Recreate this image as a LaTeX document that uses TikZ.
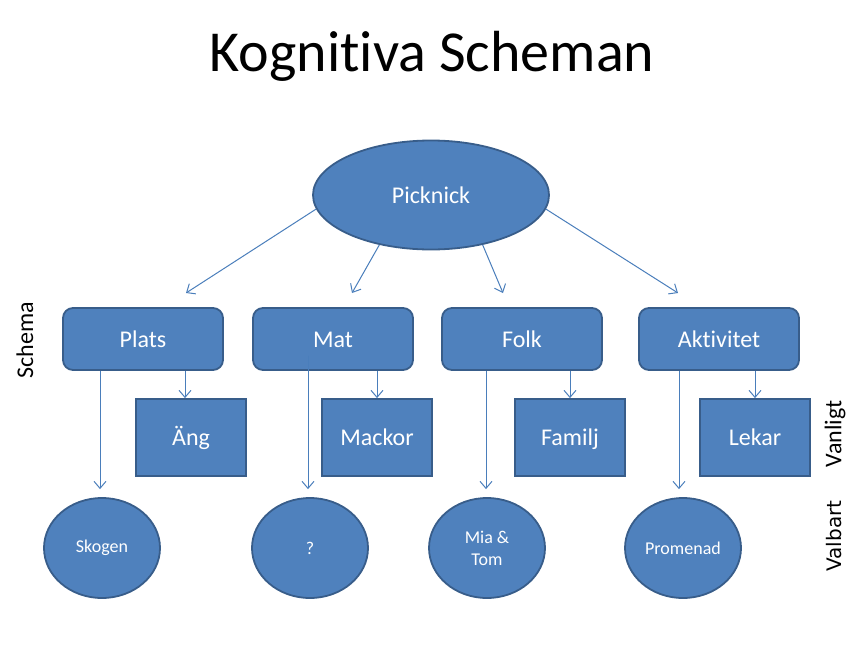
\documentclass[tikz,border=0pt]{standalone}
\usepackage{fontspec}
\setmainfont[Ligatures=NoCommon]{Carlito}
\newfontfamily\dejavu{DejaVu Sans}
\usetikzlibrary{shapes.geometric,arrows.meta}
\definecolor{boxfill}{HTML}{4F81BD}
\definecolor{boxline}{HTML}{385D8A}
\definecolor{arrcol}{HTML}{4A7EBB}
\tikzset{
  shapebase/.style={fill=boxfill, draw=boxline, line width=1.8pt, text=white, align=center, inner sep=0pt},
  bigtext/.style={font=\fontsize{24}{28}\selectfont, text height=16pt, text depth=0pt},
  topbox/.style={shapebase, bigtext, rounded corners=10pt, minimum width=160pt, minimum height=62pt},
  leafbox/.style={shapebase, bigtext, minimum width=110pt, minimum height=77pt},
  leafoval/.style={shapebase, ellipse, minimum width=116pt, minimum height=100pt, font=\fontsize{18}{22}\selectfont},
  arr/.style={draw=arrcol, line width=1pt, -{Straight Barb[length=7pt,width=12pt]}},
  sidelabel/.style={rotate=90, font=\fontsize{24}{28}\selectfont, inner sep=0pt}
}
\begin{document}
\begin{tikzpicture}[x=1pt, y=-1pt]
\useasboundingbox (0,0) rectangle (864,648);
\node[font=\fontsize{58}{70}\selectfont, inner sep=0pt] (title) at (432,56) {Kognitiva Scheman};

\node[shapebase, bigtext, ellipse, minimum width=236pt, minimum height=109pt] (pick) at (431,195) {Picknick};

\node[topbox] (plats) at (143,339) {Plats};
\node[topbox] (mat) at (333,339) {Mat};
\node[topbox] (folk) at (522,339) {Folk};
\node[topbox] (akt) at (719,339) {Aktivitet};

\node[leafbox] (ang) at (191,437.5) {Äng};
\node[leafbox] (mackor) at (377,437.5) {Mackor};
\node[leafbox] (familj) at (570,437.5) {Familj};
\node[leafbox] (lekar) at (755,437.5) {Lekar};

\node[leafoval] (skogen) at (102,548) {Skogen};
\node[leafoval] (fraga) at (310,548) {?};
\node[leafoval] (miatom) at (487,548) {Mia \&\\Tom};
\node[leafoval] (prom) at (683,548) {Promenad};

\node[sidelabel] (schema) at (25,340) {Schema};
\node[sidelabel] (vanligt) at (835,434) {Vanligt};
\node[sidelabel, font=\dejavu\fontsize{20}{24}\selectfont] (valbart) at (834,536) {Valbart};

\coordinate (pA) at (186,293);
\coordinate (pB) at (352,293);
\coordinate (pC) at (503,293);
\coordinate (pD) at (678,293);
\draw[arr] (pick.187) -- (pA);
\draw[arr] (pick.224) -- (pB);
\draw[arr] (pick.316) -- (pC);
\draw[arr] (pick.353) -- (pD);

\draw[arr] ([xshift=-6pt]ang.north |- plats.south) -- ([xshift=-6pt]ang.north);
\draw[arr] (mackor.north |- mat.south) -- (mackor.north);
\draw[arr] (familj.north |- folk.south) -- (familj.north);
\draw[arr] (lekar.north |- akt.south) -- (lekar.north);

\draw[arr] ([xshift=-2pt]skogen.north |- plats.south) -- ([xshift=-2pt,yshift=8pt]skogen.north);
\draw[arr] ([xshift=-2pt,yshift=15pt]fraga.north |- mat.south) -- ([xshift=-2pt,yshift=8pt]fraga.north);
\draw[arr] ([xshift=-1pt]miatom.north |- folk.south) -- ([xshift=-1pt,yshift=8pt]miatom.north);
\draw[arr] ([xshift=-4pt]prom.north |- akt.south) -- ([xshift=-4pt,yshift=8pt]prom.north);
\end{tikzpicture}
\end{document}
